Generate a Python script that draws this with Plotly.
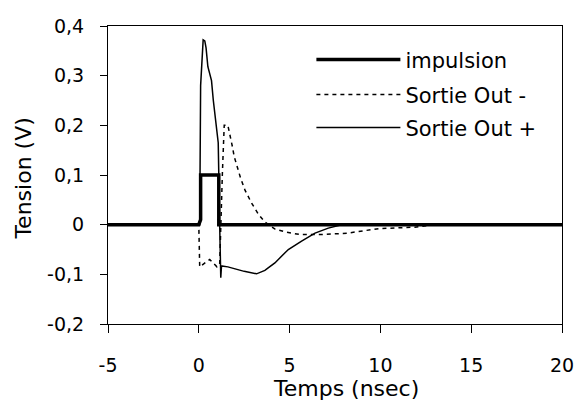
import plotly.graph_objects as go

# Impulsion (thick)
imp_x = [-5, 0.0, 0.1, 0.1, 1.1, 1.1, 20]
imp_y = [0, 0, 0.01, 0.1, 0.1, 0, 0]

# Sortie Out - (dashed)
outm_x = [-5, 0.0, 0.05, 0.6, 1.0, 1.15, 1.3, 1.4, 1.6, 1.7, 1.85, 1.95, 2.1, 2.3, 2.55,
          2.9, 3.3, 3.65, 4.2, 4.8, 5.6, 6.8, 8.2, 9.9, 11.9, 13, 20]
outm_y = [0, 0, -0.085, -0.07, -0.085, -0.08, 0.105, 0.2, 0.2, 0.185, 0.157, 0.137, 0.117,
          0.094, 0.069, 0.044, 0.02, 0.005, -0.009, -0.015, -0.02, -0.02, -0.017, -0.008,
          -0.005, 0, 0]

# Sortie Out + (thin solid)
outp_x = [-5, 0.05, 0.1, 0.24, 0.33, 0.4, 0.5, 0.7, 0.8, 0.9, 1.07, 1.15, 1.21, 1.25, 1.6,
          2.0, 2.5, 3.18, 3.64, 3.82, 4.19, 4.46, 4.93, 5.66, 6.4, 7.13, 7.86, 9, 20]
outp_y = [0, 0, 0.28, 0.372, 0.37, 0.356, 0.318, 0.29, 0.25, 0.217, 0.165, 0.0, -0.107,
          -0.083, -0.085, -0.089, -0.094, -0.099, -0.092, -0.087, -0.077, -0.067, -0.05,
          -0.033, -0.017, -0.007, 0, 0, 0]

y_tickvals = [-0.2, -0.1, 0, 0.1, 0.2, 0.3, 0.4]
y_ticktext = ["-0,2", "-0,1", "0", "0,1", "0,2", "0,3", "0,4"]
x_tickvals = [-5, 0, 5, 10, 15, 20]
x_ticktext = ["-5", "0", "5", "10", "15", "20"]

x_title = "Temps (nsec)"
y_title = "Tension (V)"

FONT = "DejaVu Sans, Liberation Sans, Arial, sans-serif"

fig = go.Figure()
fig.add_trace(go.Scatter(x=imp_x, y=imp_y, mode="lines", name="impulsion",
                         line=dict(color="black", width=3.5), legend="legend"))
fig.add_trace(go.Scatter(x=outm_x, y=outm_y, mode="lines", name="Sortie Out -",
                         line=dict(color="black", width=1.5, dash="4px,4px"),
                         legend="legend2"))
fig.add_trace(go.Scatter(x=outp_x, y=outp_y, mode="lines", name="Sortie Out +",
                         line=dict(color="black", width=1.5), legend="legend3"))

leg_common = dict(x=0.448, xanchor="left", yanchor="top", bgcolor="rgba(0,0,0,0)",
                  itemwidth=84, font=dict(size=21))

fig.update_layout(
    width=577, height=403,
    showlegend=True,
    margin=dict(l=108, r=15, t=26, b=79),
    paper_bgcolor="white", plot_bgcolor="white",
    font=dict(family=FONT, size=19, color="black"),
    legend=dict(y=0.955, **leg_common),
    legend2=dict(y=0.838, **leg_common),
    legend3=dict(y=0.727, **leg_common),
    xaxis=dict(range=[-5, 20], tickvals=x_tickvals, ticktext=x_ticktext,
               showline=True, linecolor="black", linewidth=1, mirror=True,
               ticks="outside", ticklen=8, tickcolor="black", ticklabelstandoff=16,
               showgrid=False, zeroline=False, automargin=False),
    yaxis=dict(range=[-0.2, 0.4], tickvals=y_tickvals, ticktext=y_ticktext,
               showline=True, linecolor="black", linewidth=1, mirror=True,
               ticks="outside", ticklen=7, tickcolor="black", ticklabelstandoff=12,
               showgrid=False, zeroline=False, automargin=False),
    annotations=[
        dict(text=x_title, xref="paper", yref="paper", x=0.524, y=-0.218,
             xanchor="center", yanchor="middle", showarrow=False, font=dict(size=22)),
        dict(text=y_title, xref="paper", yref="paper", x=-0.185, y=0.488,
             xanchor="center", yanchor="middle", showarrow=False, textangle=-90,
             font=dict(size=22)),
    ],
)

# remove the browser's default 8px body margin so the figure fills the window exactly
fig.write_html("out.html", config={"displayModeBar": False},
               post_script="document.body.style.margin='0px';")
